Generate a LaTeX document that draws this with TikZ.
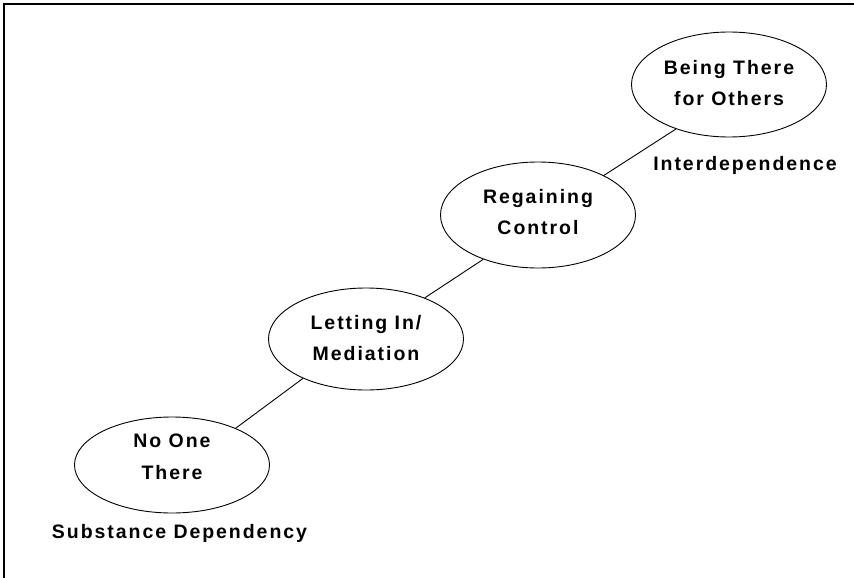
\documentclass[tikz,border=0pt]{standalone}
\usepackage{fontspec}
\usetikzlibrary{shapes.geometric}
\newfontfamily\lblfont{Liberation Sans}[LetterSpace=10]
\begin{document}
\begin{tikzpicture}[x=1pt,y=-1pt,
  stage/.style={draw=black, line width=0.9pt, ellipse, inner sep=0pt, minimum width=195pt, minimum height=104pt},
  lbl/.style={font=\lblfont\bfseries\fontsize{19.5}{31.5}\selectfont, align=center, inner sep=0pt, text=black},
  link/.style={draw=black, line width=0.9pt}]
\useasboundingbox (0,0) rectangle (854,578);
\draw[line width=1.7pt] (4,578) -- (4,4) -- (854,4);
% ellipses
\node[stage, minimum height=96pt] (e1) at (172,465) {};
\node[stage, minimum height=102pt] (e2) at (366,339) {};
\node[stage, minimum height=106pt] (e3) at (538,215) {};
\node[stage, minimum height=105pt] (e4) at (729,84.5) {};
% texts
\node[lbl] (t1) at (172,457) {No One\\There};
\node[lbl] (t2) at (366,338) {Letting In/\\Mediation};
\node[lbl] (t3) at (538,212) {Regaining\\Control};
\node[lbl] (t4) at (729,83) {Being There\\for Others};
\node[lbl] (s1) at (179.5,533) {Substance Dependency};
\node[lbl] (s4) at (745,165) {Interdependence};
% connectors
\draw[link] (e1.30) -- (e2.212);
\draw[link] (e2.35) -- (e3.219);
\draw[link] (e3.31) -- (e4.220);
\end{tikzpicture}
\end{document}
